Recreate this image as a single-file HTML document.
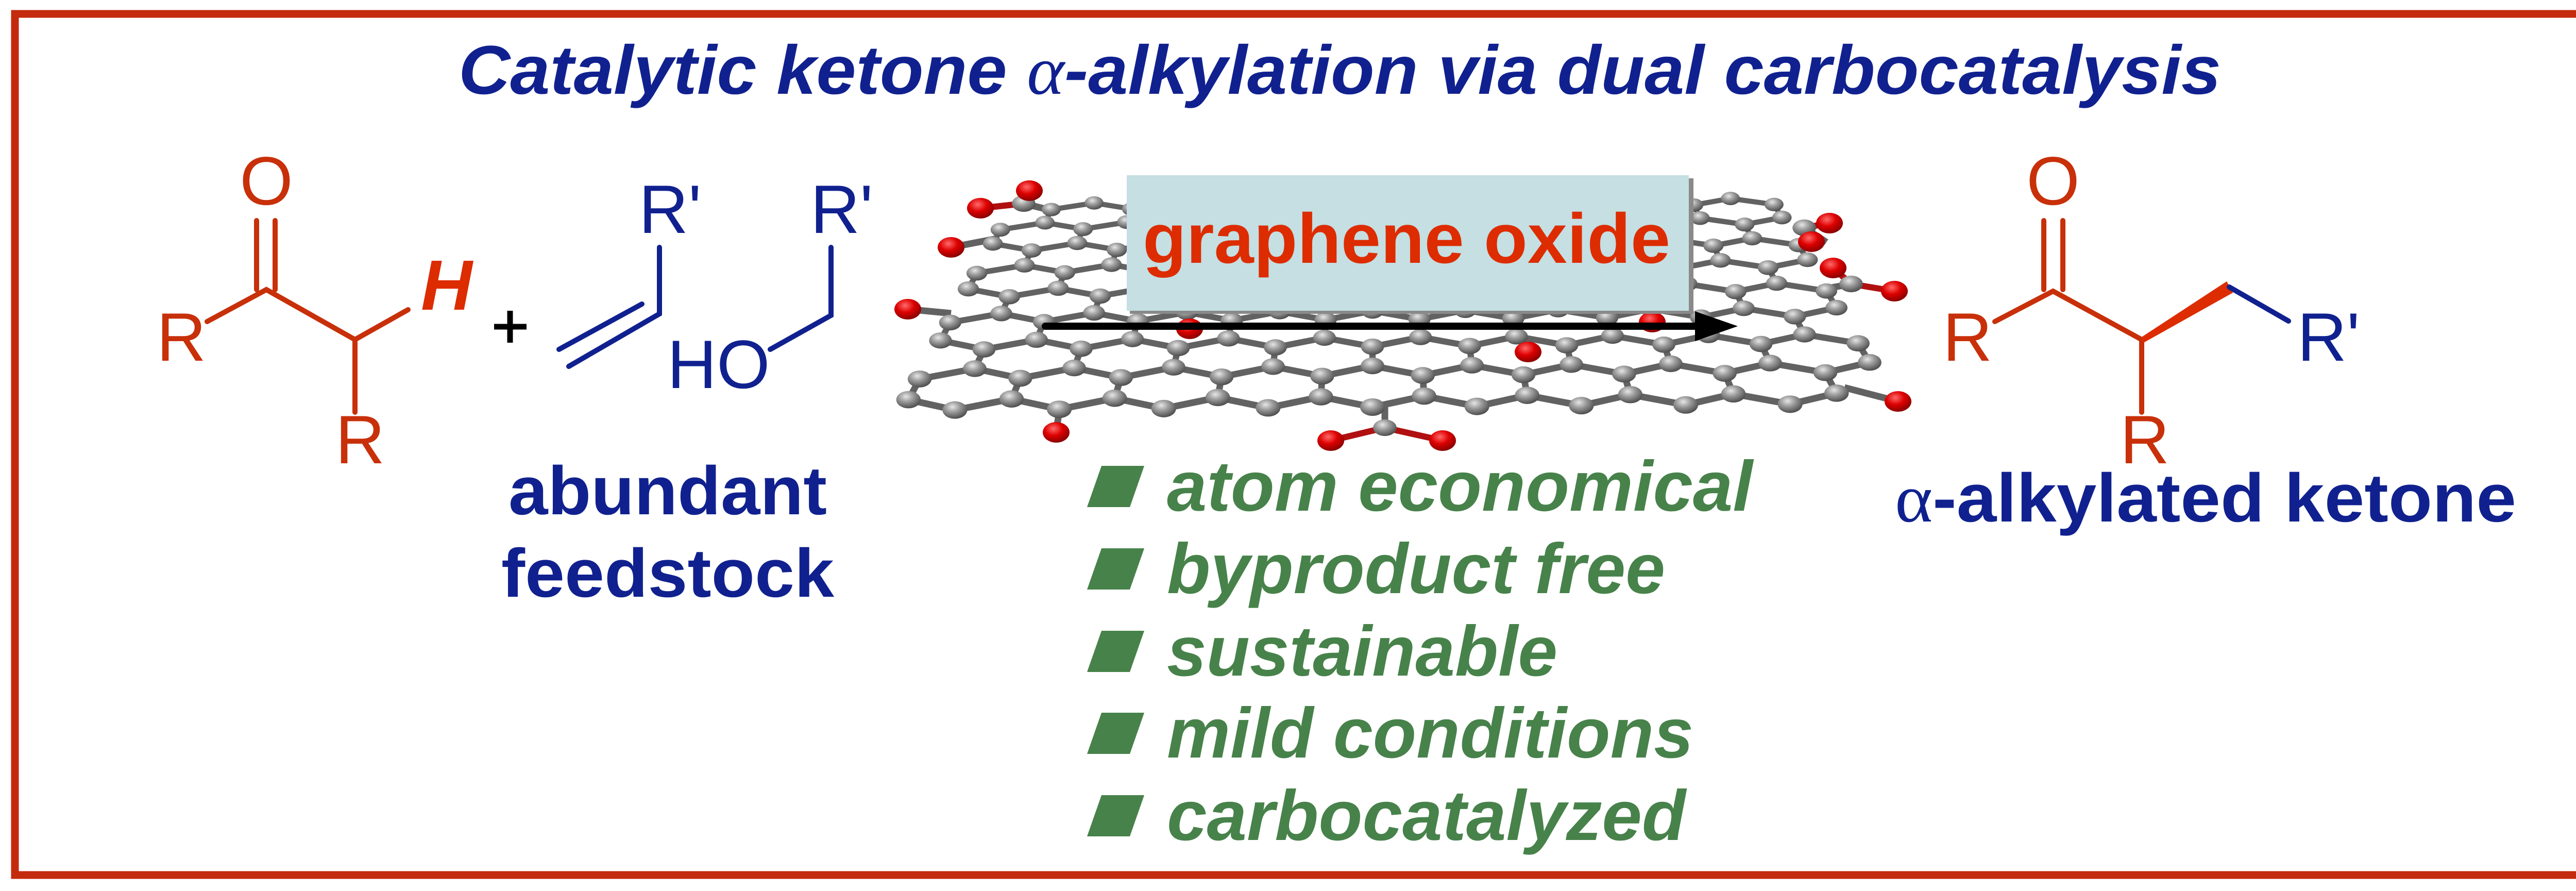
<!DOCTYPE html>
<html><head><meta charset="utf-8"><style>html,body{margin:0;padding:0;background:#fff}svg{display:block}</style></head>
<body>
<svg id="s" xmlns="http://www.w3.org/2000/svg" width="5169" height="1729" viewBox="0 0 5169 1729">
<defs>
<radialGradient id="gb" cx="40%" cy="32%" r="68%"><stop offset="0" stop-color="#e6e6e6"/><stop offset="0.45" stop-color="#9a9a9a"/><stop offset="1" stop-color="#4e4e4e"/></radialGradient>
<radialGradient id="rb" cx="40%" cy="32%" r="68%"><stop offset="0" stop-color="#ff6a6a"/><stop offset="0.5" stop-color="#dd0000"/><stop offset="1" stop-color="#8a0000"/></radialGradient>
</defs>
<rect x="0" y="0" width="5169" height="1729" fill="#fff"/>
<rect x="29" y="27" width="5111" height="1671" fill="none" stroke="#c42a0e" stroke-width="15"/>

<text x="890" y="182" font-family="Liberation Sans, sans-serif" font-size="134" font-weight="bold" font-style="italic" fill="#10218f" textLength="3421" lengthAdjust="spacingAndGlyphs">Catalytic ketone <tspan font-family="Liberation Serif, serif" font-weight="normal">α</tspan>-alkylation via dual carbocatalysis</text>

<g id="lat"></g>

<!-- left ketone -->
<g stroke="#c8300a" stroke-width="10" stroke-linecap="round" fill="none">
<line x1="498" y1="428" x2="498" y2="562"/><line x1="534" y1="428" x2="534" y2="562"/>
<polyline points="402,624 517,562 689,659 792,601"/>
<line x1="689" y1="659" x2="689" y2="800"/>
</g>
<g font-family="Liberation Sans, sans-serif" font-size="133" fill="#c8300a">
<text x="517" y="397" text-anchor="middle">O</text>
<text x="304" y="700">R</text>
<text x="651" y="899">R</text>
</g>
<text x="817" y="601" font-family="Liberation Sans, sans-serif" font-size="138" font-weight="bold" font-style="italic" fill="#dd2c00">H</text>
<g stroke="#000" stroke-width="11"><line x1="959" y1="634" x2="1022" y2="634"/><line x1="990" y1="603" x2="990" y2="665"/></g>

<g stroke="#10218f" stroke-width="10" stroke-linecap="round" fill="none">
<line x1="1085" y1="678" x2="1246" y2="590"/>
<polyline points="1104,711 1280,609 1280,480"/>
<polyline points="1495,678 1613,612 1613,480"/>
</g>
<g font-family="Liberation Sans, sans-serif" font-size="133" fill="#10218f">
<text x="1240" y="452">R'</text>
<text x="1573" y="452">R'</text>
<text x="1295" y="753">HO</text>
<text x="987" y="998" font-weight="bold" textLength="618" lengthAdjust="spacingAndGlyphs">abundant</text>
<text x="973" y="1158" font-weight="bold" textLength="646" lengthAdjust="spacingAndGlyphs">feedstock</text>
</g>

<!-- right product -->
<g stroke="#c8300a" stroke-width="10" stroke-linecap="round" fill="none">
<line x1="3967" y1="428" x2="3967" y2="562"/><line x1="4004" y1="428" x2="4004" y2="562"/>
<polyline points="3872,624 3985,565 4157,659"/>
<line x1="4157" y1="659" x2="4157" y2="800"/>
</g>
<polygon points="4157,654 4322,546 4334,568 4159,666" fill="#dd2c00"/>
<line x1="4327" y1="557" x2="4442" y2="623" stroke="#10218f" stroke-width="10" stroke-linecap="round"/>
<g font-family="Liberation Sans, sans-serif" font-size="133" fill="#c8300a">
<text x="3985" y="397" text-anchor="middle">O</text>
<text x="3771" y="700">R</text>
<text x="4115" y="899">R</text>
</g>
<text x="4459" y="700" font-family="Liberation Sans, sans-serif" font-size="133" fill="#10218f">R'</text>
<text x="3678" y="1012" font-family="Liberation Sans, sans-serif" font-size="133" font-weight="bold" fill="#10218f" textLength="1206" lengthAdjust="spacingAndGlyphs"><tspan font-family="Liberation Serif, serif" font-weight="normal">α</tspan>-alkylated ketone</text>

<!-- box -->
<rect x="2193" y="346" width="1094" height="263" fill="#8a8a8a"/>
<rect x="2187" y="340" width="1091" height="263" fill="#c5dfe2"/>
<text x="2218" y="510" font-family="Liberation Sans, sans-serif" font-size="137" font-weight="bold" fill="#dd2c00" textLength="1024" lengthAdjust="spacingAndGlyphs">graphene oxide</text>
<line x1="2029" y1="633" x2="3300" y2="633" stroke="#000" stroke-width="14" stroke-linecap="round"/>
<polygon points="3290,604 3373,633 3290,662" fill="#000"/>

<!-- list -->
<g fill="#47824a" font-family="Liberation Sans, sans-serif" font-size="138" font-weight="bold" font-style="italic">
<polygon points="2138,904 2221,904 2193,984 2110,984"/>
<polygon points="2138,1064 2221,1064 2193,1144 2110,1144"/>
<polygon points="2138,1224 2221,1224 2193,1304 2110,1304"/>
<polygon points="2138,1383 2221,1383 2193,1463 2110,1463"/>
<polygon points="2138,1543 2221,1543 2193,1623 2110,1623"/>
<text x="2265" y="991" textLength="1137" lengthAdjust="spacingAndGlyphs">atom economical</text>
<text x="2265" y="1151" textLength="967" lengthAdjust="spacingAndGlyphs">byproduct free</text>
<text x="2265" y="1311" textLength="758" lengthAdjust="spacingAndGlyphs">sustainable</text>
<text x="2265" y="1470" textLength="1022" lengthAdjust="spacingAndGlyphs">mild conditions</text>
<text x="2265" y="1630" textLength="1007" lengthAdjust="spacingAndGlyphs">carbocatalyzed</text>
</g>
</svg>
<script>
(function(){
var NS="http://www.w3.org/2000/svg",g=document.getElementById("lat");
var Kx=117,Ky=42,Xc=2664,Yb=790,r3=Math.sqrt(3);
function P(u,v){var s=1/(1+0.025*v);var X=Xc+Kx*u*s;var Y=Yb-Ky*v*s-0.007*(X-Xc);return [X,Y,s];}
var atoms={},bonds={};
function key(u,v){return Math.round(u*100)+"_"+Math.round(v*100);}
for(var j=0;j<8;j++){for(var i=-4;i<=4;i++){
 var cu=(i+(j%2?0.5:0))*r3,cv=1+1.5*j;
 var pts=[[cu,cv+1],[cu+r3/2,cv+0.5],[cu+r3/2,cv-0.5],[cu,cv-1],[cu-r3/2,cv-0.5],[cu-r3/2,cv+0.5]];
 for(var k=0;k<6;k++){var a=pts[k],b=pts[(k+1)%6];var ka=key(a[0],a[1]),kb=key(b[0],b[1]);
  atoms[ka]=a;atoms[kb]=b;var bk=ka<kb?ka+"|"+kb:kb+"|"+ka;bonds[bk]=[a,b];}
}}
function el(n,at){var e=document.createElementNS(NS,n);for(var q in at)e.setAttribute(q,at[q]);g.appendChild(e);return e;}
for(var b in bonds){var A=P(bonds[b][0][0],bonds[b][0][1]),B=P(bonds[b][1][0],bonds[b][1][1]);
 el("line",{x1:A[0],y1:A[1],x2:B[0],y2:B[1],stroke:"#626262","stroke-width":13*(A[2]+B[2])/2});}
var ox=[[2057,790,2050,839],[2688,785,2688,830],[3580,752,3684,779],[2955,647,2966,683],[2300,600,2309,638],[3195,598,3207,625],[1846,608,1762,600],[1940,462,1846,480],[2040,408,1987,395],[3545,470,3502,442],[3545,560,3593,551]];
var oxO=[[2050,839],[3684,779],[2966,683],[2309,638],[3207,625],[1762,600],[1846,480]];
var cooh=[[2688,830,2583,855,2800,855],[1987,395,1903,404,1998,370],[3502,442,3551,433,3516,469],[3593,551,3558,520,3677,565]];
ox.forEach(function(o){el("line",{x1:o[0],y1:o[1],x2:o[2],y2:o[3],stroke:"#626262","stroke-width":13});});
cooh.forEach(function(c){el("line",{x1:c[0],y1:c[1],x2:c[2],y2:c[3],stroke:"#b01010","stroke-width":12});el("line",{x1:c[0],y1:c[1],x2:c[4],y2:c[5],stroke:"#b01010","stroke-width":12});});
var list=[];for(var a in atoms){var p=P(atoms[a][0],atoms[a][1]);list.push(p);}
cooh.forEach(function(c){list.push([c[0],c[1],0.95]);});
list.sort(function(a,b){return a[1]-b[1];});
list.forEach(function(p){el("ellipse",{cx:p[0],cy:p[1],rx:24*p[2],ry:17*p[2],fill:"url(#gb)"});});
oxO.forEach(function(o){el("ellipse",{cx:o[0],cy:o[1],rx:26,ry:20,fill:"url(#rb)"});});
cooh.forEach(function(c){el("ellipse",{cx:c[2],cy:c[3],rx:26,ry:20,fill:"url(#rb)"});el("ellipse",{cx:c[4],cy:c[5],rx:26,ry:20,fill:"url(#rb)"});});
})();
</script>
</body></html>
